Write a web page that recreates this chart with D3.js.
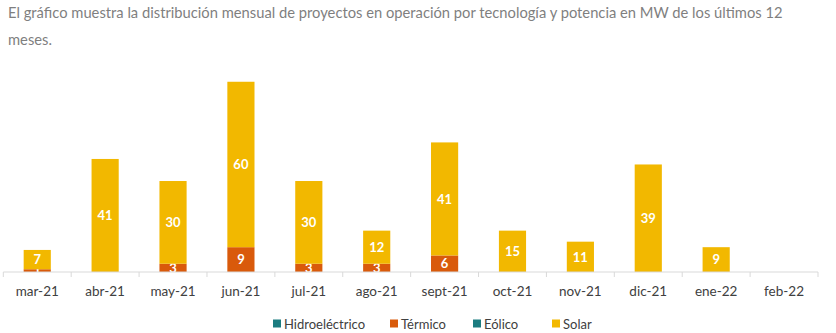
<!DOCTYPE html>
<html>
<head>
<meta charset="utf-8">
<script src="https://cdn.jsdelivr.net/npm/d3@7"></script>
<style>
  html, body { margin: 0; padding: 0; background: #fff; }
  svg { display: block; }
  text { font-family: Lato, "Open Sans", sans-serif; }
</style>
</head>
<body>
<svg id="chart" width="836" height="333"></svg>
<script>
// Monthly MW in operation by technology
const months = ["mar-21","abr-21","may-21","jun-21","jul-21","ago-21","sept-21","oct-21","nov-21","dic-21","ene-22","feb-22"];
const hidroelectrico = [0,0,0,0,0,0,0,0,0,0,0,0];
const termico        = [1,0,3,9,3,3,6,0,0,0,0,0];
const eolico         = [0,0,0,0,0,0,0,0,0,0,0,0];
const solar          = [7,41,30,60,30,12,41,15,11,39,9,0];

const seriesNames = ["Hidroeléctrico","Térmico","Eólico","Solar"];
const seriesValues = [hidroelectrico, termico, eolico, solar];
const colors = ["#1b7c80","#d95a0b","#1b7c80","#f2b800"];

const titleLines = [
  "El gráfico muestra la distribución mensual de proyectos en operación por tecnología y potencia en MW de los últimos 12",
  "meses."
];

const svg = d3.select("#chart");

// Heading text
const title = svg.append("g");
const t1 = title.append("text").attr("x", 8).attr("y", 18).attr("fill", "#7f7f7f")
  .style("font-size", "14px").text(titleLines[0]);
const w = t1.node().getComputedTextLength();
const fs = 14 * 775 / w;
t1.style("font-size", fs + "px");
title.append("text").attr("x", 8).attr("y", 45).attr("fill", "#7f7f7f")
  .style("font-size", fs + "px").text(titleLines[1]);

// Stacked data
const rows = months.map((m, i) => {
  const r = { month: m };
  seriesNames.forEach((s, k) => r[s] = seriesValues[k][i]);
  return r;
});
const stacked = d3.stack().keys(seriesNames)(rows);

const x = d3.scaleBand().domain(months).range([3.3, 818]).paddingInner(0.6).paddingOuter(0.3);
const xOuter = d3.scaleBand().domain(months).range([3.3, 818]);
const y = d3.scaleLinear().domain([0, 70]).range([272, 79]);

// Bars
const layers = svg.append("g").selectAll("g").data(stacked).join("g")
  .attr("fill", (d, i) => colors[i]);
layers.selectAll("rect").data(d => d.filter(p => p[1] - p[0] > 0)).join("rect")
  .attr("x", d => x(d.data.month))
  .attr("width", x.bandwidth())
  .attr("y", d => y(d[1]))
  .attr("height", d => y(d[0]) - y(d[1]));

// Value labels
layers.selectAll("text").data(d => d.filter(p => p[1] - p[0] > 0)).join("text")
  .attr("x", d => x(d.data.month) + x.bandwidth() / 2)
  .attr("y", d => (y(d[0]) + y(d[1])) / 2)
  .attr("dy", "0.36em")
  .attr("text-anchor", "middle")
  .attr("fill", "#ffffff")
  .style("font-size", "13px")
  .style("font-weight", "bold")
  .text(d => d[1] - d[0]);

// Category axis
const axis = svg.append("g").attr("transform", "translate(0,272)");
axis.append("line").attr("x1", 3.3).attr("x2", 818).attr("stroke", "#d9d9d9");
axis.selectAll("line.tick").data(months.concat(["end"])).join("line")
  .attr("class", "tick")
  .attr("x1", (d, i) => 3.3 + i * xOuter.step())
  .attr("x2", (d, i) => 3.3 + i * xOuter.step())
  .attr("y1", 0).attr("y2", 5)
  .attr("stroke", "#d9d9d9");
axis.selectAll("text").data(months).join("text")
  .attr("x", d => xOuter(d) + xOuter.bandwidth() / 2)
  .attr("y", 24)
  .attr("text-anchor", "middle")
  .attr("fill", "#404040")
  .style("font-size", "13.5px")
  .text(d => d);

// Legend
const legendX = [273, 390, 473, 552];
const legend = svg.append("g").selectAll("g").data(seriesNames).join("g")
  .attr("transform", (d, i) => `translate(${legendX[i]},324)`);
legend.append("rect").attr("x", 0).attr("y", -4.5).attr("width", 8).attr("height", 8)
  .attr("fill", (d, i) => colors[i]);
legend.append("text").attr("x", 11).attr("dy", "0.35em")
  .attr("fill", "#404040").style("font-size", "13px").text(d => d);
</script>
</body>
</html>
